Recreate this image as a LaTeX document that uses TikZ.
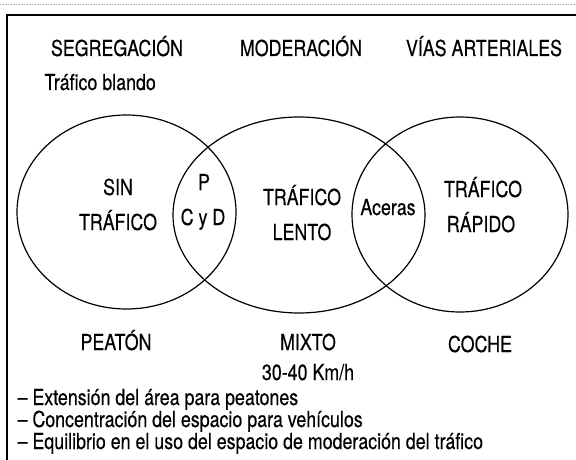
\documentclass[tikz,border=0pt]{standalone}
\usepackage{fontspec}
\setmainfont{TeX Gyre Heros}[FakeStretch=0.81, FakeBold=0.3]

\begin{document}
\begin{tikzpicture}[x=1pt, y=-1pt, every path/.style={black, line width=1.2pt}, every node/.style={inner sep=0pt, anchor=base, font=\fontsize{22}{24}\selectfont}]
        \tikzset{listitem/.style={anchor=base west}}
        \useasboundingbox (0,0) rectangle (576,460);
        % frame
        \draw[gray!60, line width=0.6pt, densely dotted] (0,4.5) -- (576,4.5);
        \draw[line width=1.7pt] (576,15) -- (7,15) -- (7,460);
        % the three zones
        \draw (126.5,212) ellipse (109.5 and 97);
        \draw (299,215) ellipse (126 and 98);
        \draw (460,214.5) ellipse (108 and 97.5);
        \node (seg) at (117,56) {SEGREGACIÓN};
        \node (mod) at (301,56) {MODERACIÓN};
        \node (vias) at (484,56) {VÍAS ARTERIALES};
        \node[anchor=base west] (blando) at (44,90) {Tráfico blando};
        \node (sin) at (118,195) {SIN};
        \node (sintraf) at (118,230) {TRÁFICO};
        \node (p) at (204,190) {P};
        \node (cyd) at (203,225) {C y D};
        \node (lento) at (302,205) {TRÁFICO};
        \node (lento2) at (302,240) {LENTO};
        \node (aceras) at (388,215) {Aceras};
        \node (rapido) at (483,197) {TRÁFICO};
        \node (rapido2) at (481,232) {RÁPIDO};
        \node (peaton) at (116,350) {PEATÓN};
        \node (mixto) at (308,350) {MIXTO};
        \node (kmh) at (308,380) {30-40 Km/h};
        \node (coche) at (480,352) {COCHE};
        \node[listitem] (ext) at (17,405) {– Extensión del área para peatones};
        \node[listitem] (conc) at (17,427) {– Concentración del espacio para vehículos};
        \node[listitem] (equi) at (17,449) {– Equilibrio en el uso del espacio de moderación del tráfico};
    \end{tikzpicture}
\end{document}
